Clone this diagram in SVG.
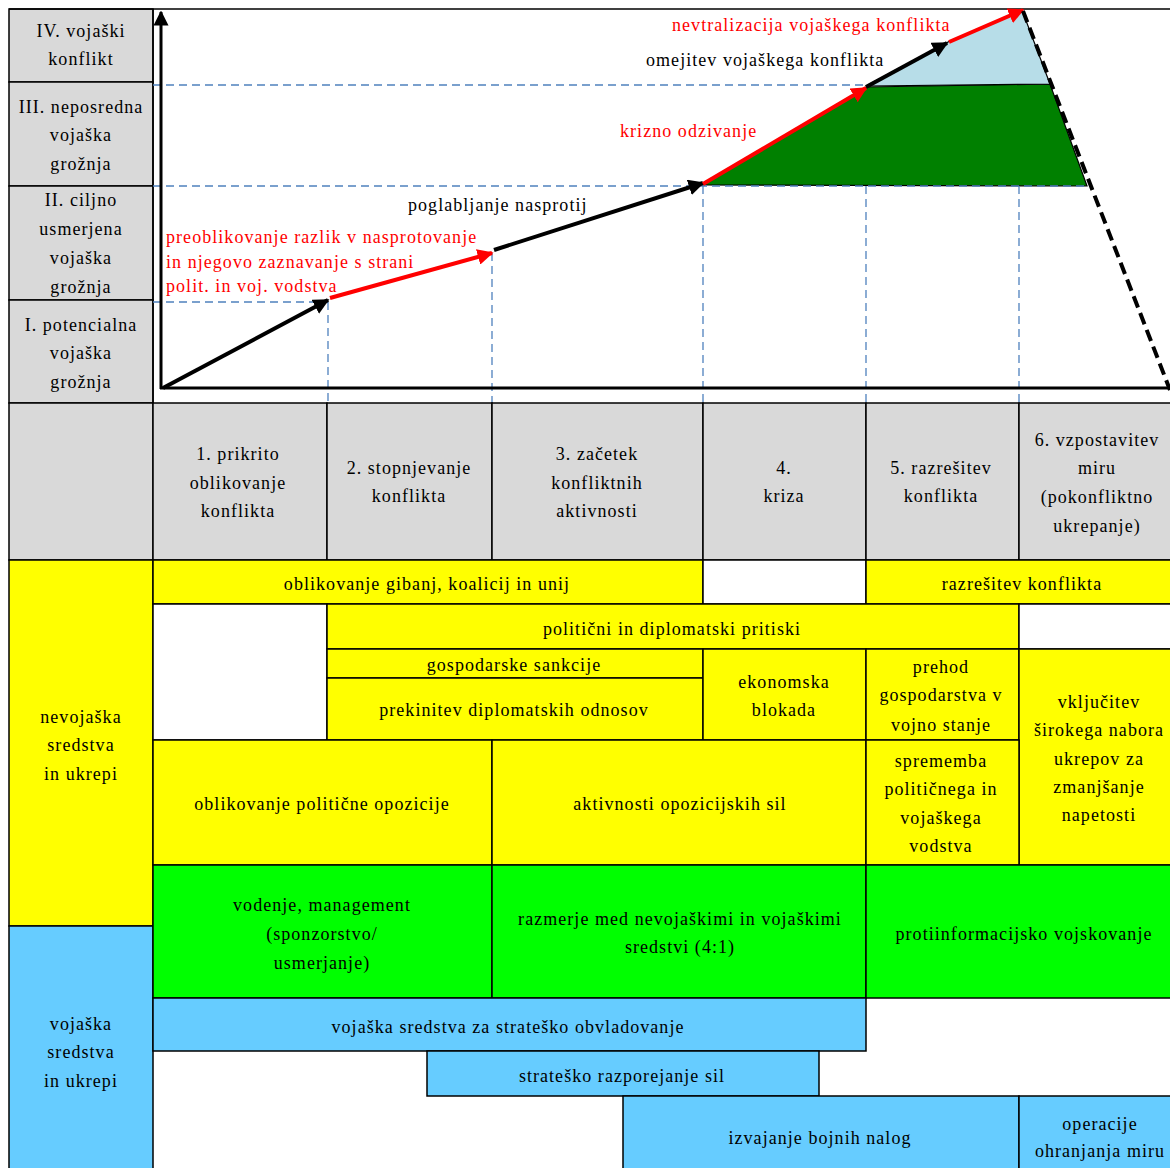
<svg xmlns="http://www.w3.org/2000/svg" width="1170" height="1168" viewBox="0 0 1170 1168">
<style>
.t{font-family:"Liberation Serif","Times New Roman",serif;font-size:18px;letter-spacing:1.05px;text-anchor:middle;fill:#000}
.tl{font-family:"Liberation Serif","Times New Roman",serif;font-size:18px;letter-spacing:1.05px;text-anchor:start;fill:#000}
.red{fill:#ff0000}
.c{stroke:#000;stroke-width:1.5}
.g{fill:#d9d9d9}
.y{fill:#ffff00}
.gr{fill:#00ff00}
.b{fill:#66ccff}
.w{fill:#ffffff}
.dash{stroke:#4f81bd;stroke-width:1.3;stroke-dasharray:8,5;fill:none}
.ab{stroke:#000;stroke-width:4;fill:none}
.ar{stroke:#ff0000;stroke-width:4;fill:none}
</style>
<defs>
<marker id="mb" viewBox="0 0 10 10" refX="9" refY="5" markerWidth="4" markerHeight="4" orient="auto" markerUnits="strokeWidth">
<path d="M0,0 L10,5 L0,10 z" fill="#000"/>
</marker>
<marker id="mr" viewBox="0 0 10 10" refX="9" refY="5" markerWidth="4" markerHeight="4" orient="auto" markerUnits="strokeWidth">
<path d="M0,0 L10,5 L0,10 z" fill="#ff0000"/>
</marker>
<marker id="ma" viewBox="0 0 10 10" refX="9" refY="5" markerWidth="5" markerHeight="5" orient="auto" markerUnits="strokeWidth">
<path d="M0,0 L10,5 L0,10 z" fill="#000"/>
</marker>
</defs>
<rect x="0" y="0" width="1170" height="1168" fill="#fff"/>

<!-- level labels -->
<g id="level-IV"><rect class="c g" x="9" y="9" width="144" height="73"/><text class="t" x="81" y="37">IV. vojaški</text><text class="t" x="81" y="65">konflikt</text></g>
<g id="level-III"><rect class="c g" x="9" y="82" width="144" height="104"/><text class="t" x="81" y="113">III. neposredna</text><text class="t" x="81" y="141">vojaška</text><text class="t" x="81" y="170">grožnja</text></g>
<g id="level-II"><rect class="c g" x="9" y="186" width="144" height="114"/><text class="t" x="81" y="206">II. ciljno</text><text class="t" x="81" y="235">usmerjena</text><text class="t" x="81" y="264">vojaška</text><text class="t" x="81" y="293">grožnja</text></g>
<g id="level-I"><rect class="c g" x="9" y="300" width="144" height="103"/><text class="t" x="81" y="331">I. potencialna</text><text class="t" x="81" y="359">vojaška</text><text class="t" x="81" y="388">grožnja</text></g>

<!-- chart frame -->
<g id="chart-frame">
<line class="c" x1="9" y1="9" x2="1172" y2="9"/>
<line class="c" x1="153" y1="9" x2="153" y2="403"/>
</g>

<!-- areas -->
<g id="area-green"><polygon points="703,185 866,87 1050,84 1087,186" fill="#008000" stroke="#000" stroke-width="1.2"/></g>
<g id="area-lightblue"><polygon points="866,86 948,42 1022,10 1050,84" fill="#b7dde8" stroke="#000" stroke-width="1.2"/></g>

<!-- dashed guides -->
<g id="guides">
<line class="dash" x1="153" y1="85" x2="866" y2="85"/>
<line class="dash" x1="153" y1="186" x2="1088" y2="186"/>
<line class="dash" x1="153" y1="302" x2="328" y2="302"/>
<line class="dash" x1="328" y1="302" x2="328" y2="403"/>
<line class="dash" x1="492" y1="253" x2="492" y2="403"/>
<line class="dash" x1="703" y1="186" x2="703" y2="403"/>
<line class="dash" x1="866" y1="186" x2="866" y2="403"/>
<line class="dash" x1="1019" y1="186" x2="1019" y2="403"/>
</g>

<!-- connectors -->
<g id="connectors">
<line x1="161" y1="389" x2="161" y2="12" stroke="#000" stroke-width="3" marker-end="url(#ma)"/>
<line x1="160" y1="388" x2="1172" y2="388" stroke="#000" stroke-width="3"/>
<line class="ab" x1="163" y1="388" x2="328" y2="300" marker-end="url(#mb)"/>
<line class="ar" x1="330" y1="298" x2="492" y2="253" marker-end="url(#mr)"/>
<line class="ab" x1="494" y1="250" x2="703" y2="183" marker-end="url(#mb)"/>
<line class="ar" x1="703" y1="184" x2="866" y2="88" marker-end="url(#mr)"/>
<line class="ab" x1="866" y1="87" x2="947" y2="43" marker-end="url(#mb)"/>
<line class="ar" x1="949" y1="42" x2="1023" y2="10" marker-end="url(#mr)"/>
<line x1="1023" y1="11" x2="1170" y2="390" stroke="#000" stroke-width="4" stroke-dasharray="12,6"/>
</g>

<!-- chart labels -->
<g id="chart-labels">
<text class="tl red" x="672" y="31">nevtralizacija vojaškega konflikta</text>
<text class="tl" x="646" y="66">omejitev vojaškega konflikta</text>
<text class="tl red" x="620" y="137">krizno odzivanje</text>
<text class="tl" x="408" y="211">poglabljanje nasprotij</text>
<text class="tl red" x="166" y="243">preoblikovanje razlik v nasprotovanje</text>
<text class="tl red" x="166" y="268">in njegovo zaznavanje s strani</text>
<text class="tl red" x="166" y="292">polit. in voj. vodstva</text>
</g>

<!-- phase header -->
<g id="phase-blank"><rect class="c g" x="9" y="403" width="144" height="157"/></g>
<g id="phase-1"><rect class="c g" x="153" y="403" width="174" height="157"/><text class="t" x="238" y="460">1. prikrito</text><text class="t" x="238" y="489">oblikovanje</text><text class="t" x="238" y="517">konflikta</text></g>
<g id="phase-2"><rect class="c g" x="327" y="403" width="165" height="157"/><text class="t" x="409" y="474">2. stopnjevanje</text><text class="t" x="409" y="502">konflikta</text></g>
<g id="phase-3"><rect class="c g" x="492" y="403" width="211" height="157"/><text class="t" x="597" y="460">3. začetek</text><text class="t" x="597" y="489">konfliktnih</text><text class="t" x="597" y="517">aktivnosti</text></g>
<g id="phase-4"><rect class="c g" x="703" y="403" width="163" height="157"/><text class="t" x="784" y="474">4.</text><text class="t" x="784" y="502">kriza</text></g>
<g id="phase-5"><rect class="c g" x="866" y="403" width="153" height="157"/><text class="t" x="941" y="474">5. razrešitev</text><text class="t" x="941" y="502">konflikta</text></g>
<g id="phase-6"><rect class="c g" x="1019" y="403" width="153" height="157"/><text class="t" x="1097" y="446">6. vzpostavitev</text><text class="t" x="1097" y="474">miru</text><text class="t" x="1097" y="503">(pokonfliktno</text><text class="t" x="1097" y="532">ukrepanje)</text></g>

<!-- categories -->
<g id="cat-nevojaska"><rect class="c y" x="9" y="560" width="144" height="366"/><text class="t" x="81" y="723">nevojaška</text><text class="t" x="81" y="751">sredstva</text><text class="t" x="81" y="780">in ukrepi</text></g>
<g id="cat-vojaska"><rect class="c b" x="9" y="926" width="144" height="244"/><text class="t" x="81" y="1030">vojaška</text><text class="t" x="81" y="1058">sredstva</text><text class="t" x="81" y="1087">in ukrepi</text></g>

<!-- measures -->
<g id="m-gibanja"><rect class="c y" x="153" y="560" width="550" height="44"/><text class="t" x="427" y="590">oblikovanje gibanj, koalicij in unij</text></g>
<g id="m-empty-a"><rect class="c w" x="703" y="560" width="163" height="44"/></g>
<g id="m-razresitev"><rect class="c y" x="866" y="560" width="306" height="44"/><text class="t" x="1022" y="590">razrešitev konflikta</text></g>
<g id="m-empty-b"><rect class="c w" x="153" y="604" width="174" height="136"/></g>
<g id="m-pritiski"><rect class="c y" x="327" y="604" width="692" height="45"/><text class="t" x="672" y="635">politični in diplomatski pritiski</text></g>
<g id="m-empty-c"><rect class="c w" x="1019" y="604" width="153" height="45"/></g>
<g id="m-sankcije"><rect class="c y" x="327" y="649" width="376" height="29"/><text class="t" x="514" y="671">gospodarske sankcije</text></g>
<g id="m-prekinitev"><rect class="c y" x="327" y="678" width="376" height="62"/><text class="t" x="514" y="716">prekinitev diplomatskih odnosov</text></g>
<g id="m-blokada"><rect class="c y" x="703" y="649" width="163" height="91"/><text class="t" x="784" y="688">ekonomska</text><text class="t" x="784" y="716">blokada</text></g>
<g id="m-prehod"><rect class="c y" x="866" y="649" width="153" height="91"/><text class="t" x="941" y="673">prehod</text><text class="t" x="941" y="701">gospodarstva v</text><text class="t" x="941" y="731">vojno stanje</text></g>
<g id="m-vkljucitev"><rect class="c y" x="1019" y="649" width="153" height="216"/><text class="t" x="1099" y="708">vključitev</text><text class="t" x="1099" y="736">širokega nabora</text><text class="t" x="1099" y="765">ukrepov za</text><text class="t" x="1099" y="793">zmanjšanje</text><text class="t" x="1099" y="821">napetosti</text></g>
<g id="m-opozicija"><rect class="c y" x="153" y="740" width="339" height="125"/><text class="t" x="322" y="810">oblikovanje politične opozicije</text></g>
<g id="m-aktivnosti"><rect class="c y" x="492" y="740" width="374" height="125"/><text class="t" x="680" y="810">aktivnosti opozicijskih sil</text></g>
<g id="m-sprememba"><rect class="c y" x="866" y="740" width="153" height="125"/><text class="t" x="941" y="767">sprememba</text><text class="t" x="941" y="795">političnega in</text><text class="t" x="941" y="824">vojaškega</text><text class="t" x="941" y="852">vodstva</text></g>
<g id="m-vodenje"><rect class="c gr" x="153" y="865" width="339" height="133"/><text class="t" x="322" y="911">vodenje, management</text><text class="t" x="322" y="940">(sponzorstvo/</text><text class="t" x="322" y="969">usmerjanje)</text></g>
<g id="m-razmerje"><rect class="c gr" x="492" y="865" width="374" height="133"/><text class="t" x="680" y="925">razmerje med nevojaškimi in vojaškimi</text><text class="t" x="680" y="953">sredstvi (4:1)</text></g>
<g id="m-protiinformacijsko"><rect class="c gr" x="866" y="865" width="306" height="133"/><text class="t" x="1024" y="940">protiinformacijsko vojskovanje</text></g>
<g id="m-obvladovanje"><rect class="c b" x="153" y="998" width="713" height="53"/><text class="t" x="508" y="1033">vojaška sredstva za strateško obvladovanje</text></g>
<g id="m-razporejanje"><rect class="c b" x="427" y="1051" width="392" height="45"/><text class="t" x="622" y="1082">strateško razporejanje sil</text></g>
<g id="m-bojne"><rect class="c b" x="623" y="1096" width="396" height="74"/><text class="t" x="820" y="1144">izvajanje bojnih nalog</text></g>
<g id="m-ohranjanje"><rect class="c b" x="1019" y="1096" width="153" height="74"/><text class="t" x="1100" y="1130">operacije</text><text class="t" x="1100" y="1157">ohranjanja miru</text></g>
</svg>
